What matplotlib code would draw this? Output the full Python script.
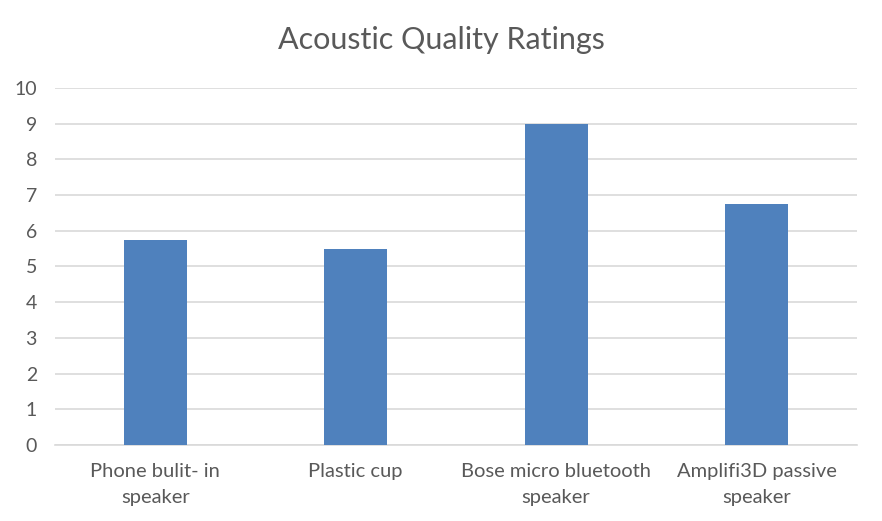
import matplotlib.pyplot as plt

categories = ["Phone bulit- in\nspeaker", "Plastic cup",
              "Bose micro bluetooth\nspeaker", "Amplifi3D passive\nspeaker"]
ratings = [5.75, 5.5, 9.0, 6.75]

plt.rcParams["font.family"] = ["Lato", "DejaVu Sans"]

fig = plt.figure(figsize=(8.82, 5.21), dpi=100)
ax = fig.add_axes([0.0624, 0.146, 0.909, 0.685])

x = range(len(categories))
ax.bar(x, ratings, width=0.315, color="#4F81BD", zorder=3)

ax.set_xlim(-0.5, len(categories) - 0.5)
ax.set_ylim(0, 10)
ax.set_yticks(range(0, 11))
ax.set_xticks(list(x))
ax.set_xticklabels(categories, fontsize=14.5, linespacing=1.65)
ax.tick_params(axis="both", length=0, colors="#595959")
ax.tick_params(axis="y", pad=13, labelsize=14)
ax.tick_params(axis="x", pad=13)
ax.yaxis.grid(True, color="#D9D9D9", linewidth=1.2, zorder=0)
for s in ["top", "right", "left"]:
    ax.spines[s].set_visible(False)
ax.spines["bottom"].set_color("#D9D9D9")
ax.spines["bottom"].set_linewidth(1.2)

fig.suptitle("Acoustic Quality Ratings", y=0.95, fontsize=22, color="#595959")

fig.savefig("out.png", dpi=100)
